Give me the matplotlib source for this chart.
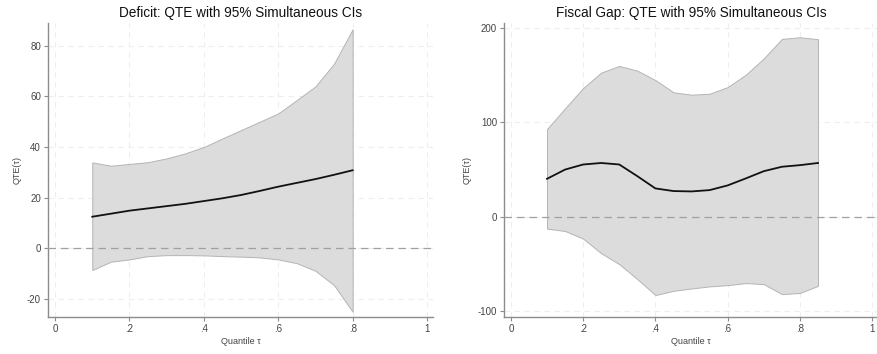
import matplotlib
matplotlib.use("Agg")
import matplotlib.pyplot as plt
from matplotlib.ticker import FixedLocator

plt.rcParams["font.family"] = ["Liberation Sans", "DejaVu Sans"]

# Deficit: quantile treatment effects with simultaneous bands
deficit_tau = [0.10, 0.15, 0.20, 0.25, 0.30, 0.35, 0.40, 0.45, 0.50,
               0.55, 0.60, 0.65, 0.70, 0.75, 0.80]
deficit_qte = [12.4, 13.6, 14.8, 15.7, 16.6, 17.5, 18.6, 19.7, 21.0,
               22.6, 24.3, 25.8, 27.3, 29.0, 30.8]
deficit_upper = [33.9, 32.6, 33.3, 34.0, 35.5, 37.5, 40.0, 43.4, 46.7,
                 50.0, 53.3, 58.6, 64.0, 73.0, 86.6]
deficit_lower = [-8.7, -5.4, -4.5, -3.2, -2.8, -2.8, -2.9, -3.2, -3.4,
                 -3.7, -4.5, -6.0, -9.0, -14.7, -25.2]

# Fiscal gap: quantile treatment effects with simultaneous bands
gap_tau = [0.10, 0.15, 0.20, 0.25, 0.30, 0.35, 0.40, 0.45, 0.50,
           0.55, 0.60, 0.65, 0.70, 0.75, 0.80, 0.85]
gap_qte = [40.2, 50.0, 55.4, 57.0, 55.4, 43.0, 30.0, 27.2, 26.8,
           28.2, 33.2, 40.6, 48.3, 53.0, 54.7, 57.0]
gap_upper = [93.0, 115.0, 136.5, 153.0, 160.0, 155.0, 145.0, 132.0, 129.5,
             130.5, 137.6, 150.6, 168.0, 188.7, 190.5, 188.4]
gap_lower = [-12.7, -15.2, -23.3, -38.8, -50.4, -66.3, -83.2, -78.7, -76.2,
             -74.0, -72.7, -70.5, -71.6, -82.2, -81.0, -73.4]

x_ticks = [0, 0.2, 0.4, 0.6, 0.8, 1.0]
x_ticklabels = ["0", ".2", ".4", ".6", ".8", "1"]
deficit_yticks = [-20, 0, 20, 40, 60, 80]
gap_yticks = [-100, 0, 100, 200]

W, H = 878, 354
fig = plt.figure(figsize=(W / 100, H / 100), dpi=100)
fig.patch.set_facecolor("white")

spine_col = "#8c8c8c"
tick_col = "#444444"


def panel(rect, tau, qte, lo, hi, yticks, ylim, title):
    ax = fig.add_axes(rect)
    ax.set_xlim(-0.019, 1.016)
    ax.set_ylim(*ylim)
    ax.fill_between(tau, lo, hi, facecolor="#dcdcdc", edgecolor="#b4b4b4",
                    linewidth=0.7, zorder=2)
    ax.plot(tau, qte, color="#111111", linewidth=1.3, zorder=3)
    ax.axhline(0, color="#a0a0a0", linestyle=(0, (6, 4)), linewidth=0.9, zorder=4)
    ax.xaxis.set_major_locator(FixedLocator(x_ticks))
    ax.set_xticklabels(x_ticklabels)
    ax.yaxis.set_major_locator(FixedLocator(yticks))
    ax.set_yticklabels([str(v) for v in yticks])
    ax.grid(True, color="#eeeeee", linestyle=(0, (5, 4)), linewidth=0.8, zorder=0)
    ax.set_axisbelow(True)
    for s in ("top", "right"):
        ax.spines[s].set_visible(False)
    for s in ("left", "bottom"):
        ax.spines[s].set_color(spine_col)
        ax.spines[s].set_linewidth(1.0)
    ax.tick_params(axis="both", colors=spine_col, labelcolor=tick_col,
                   labelsize=7, length=3, width=0.8, pad=2)
    ax.set_title(title, fontsize=9.8, color="#111111", pad=4)
    ax.set_xlabel("Quantile \u03c4", fontsize=6.5, color=tick_col, labelpad=2)
    ax.set_ylabel("QTE(\u03c4)", fontsize=6.5, color=tick_col, labelpad=4)
    return ax


ax_h = (317 - 23) / H
ax_b = 1 - 317 / H

panel([48 / W, ax_b, 385 / W, ax_h], deficit_tau, deficit_qte, deficit_lower,
      deficit_upper, deficit_yticks, (-27.3, 89.1),
      "Deficit: QTE with 95% Simultaneous CIs")
panel([504 / W, ax_b, 374 / W, ax_h], gap_tau, gap_qte, gap_lower,
      gap_upper, gap_yticks, (-106.5, 205.6),
      "Fiscal Gap: QTE with 95% Simultaneous CIs")

fig.savefig("out.png", dpi=100)
